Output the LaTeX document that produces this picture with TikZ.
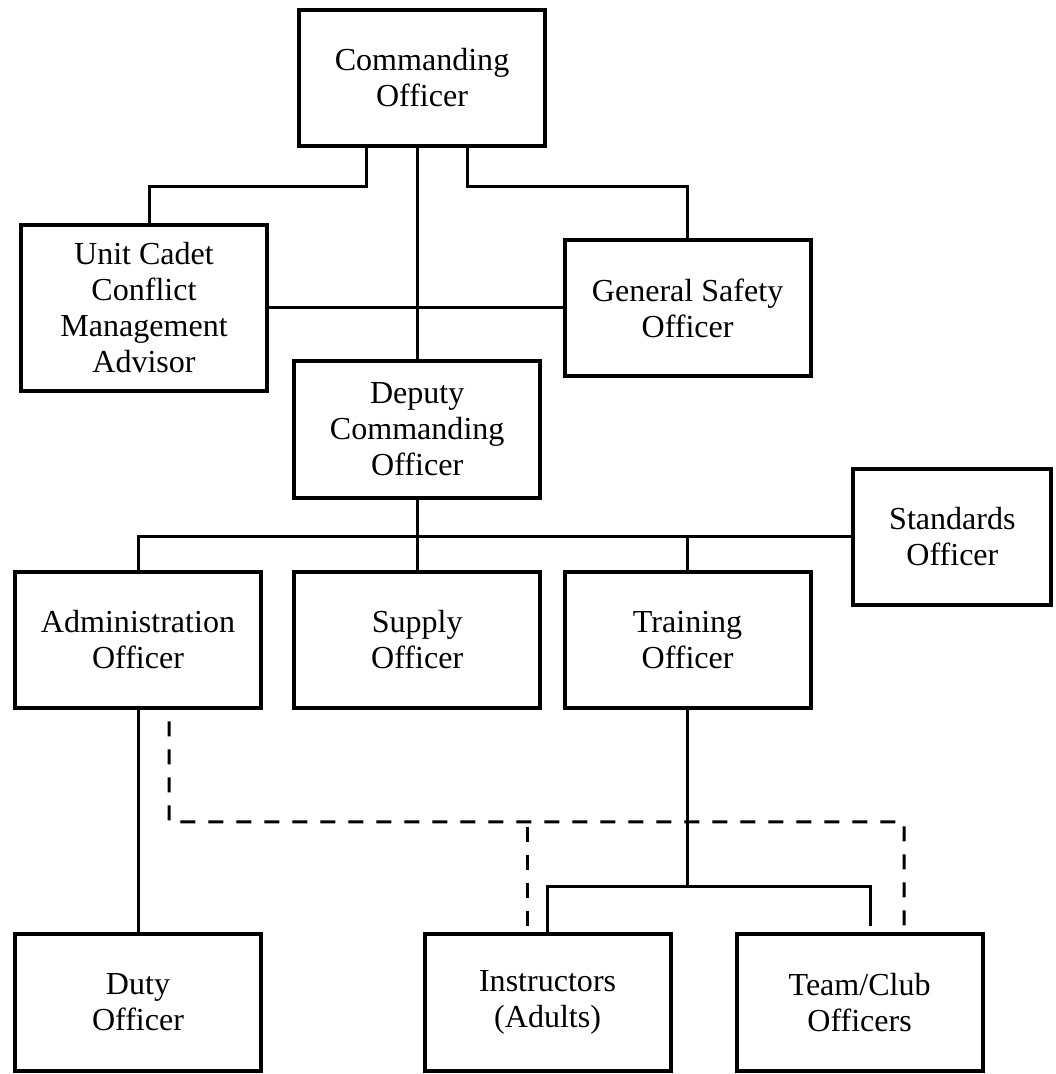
\documentclass[tikz,border=0pt]{standalone}
\usepackage{fontspec}
\setmainfont{Liberation Serif}

\begin{document}
\begin{tikzpicture}[
  x=1cm,y=1cm,font=\fontsize{22.8}{25.6}\selectfont,
  post/.style={draw,line width=.1cm,minimum width=6.15cm,minimum height=3.42cm,
    align=center,inner sep=0pt},
  link/.style={line width=.075cm},
  liaison/.style={line width=.075cm,dash pattern=on .375cm off .325cm}
]
\useasboundingbox (0,0) rectangle (26.375,26.85);
\node[post] (co)  at (10.55,24.9)  {Commanding\\ Officer};
\node[post,minimum height=4.15cm] (ucc) at (3.6,19.15) {Unit Cadet\\ Conflict\\ Management\\ Advisor};
\node[post] (gso) at (17.19,19.15) {General Safety\\ Officer};
\node[post] (dco) at (10.43,16.11) {Deputy\\ Commanding\\ Officer};
\node[post,minimum width=4.95cm] (std) at (23.81,13.425) {Standards\\ Officer};
\node[post] (adm) at (3.45,10.85) {Administration\\ Officer};
\node[post] (sup) at (10.43,10.85) {Supply\\ Officer};
\node[post] (trn) at (17.19,10.85) {Training\\ Officer};
\node[post] (duty) at (3.45,1.79) {Duty\\ Officer};
\node[post] (ins) at (13.69,1.79) {Instructors\\ (Adults)};
\node[post] (tcl) at (21.49,1.79) {Team/Club\\ Officers};
\draw[link] ([xshift=-1.4cm]co.south) -- ++(0,-.965) -| ([xshift=.125cm]ucc.north);
\draw[link] ([xshift=1.125cm]co.south) -- ++(0,-.965) -| (gso.north);
\draw[link] (co.south -| dco.north) -- (dco.north);
\draw[link] (ucc.east) -- (gso.west);
\draw[link] (dco.south) -- (sup.north);
\draw[link] (adm.north) |- (std.west);
\draw[link] (trn.north) -- (trn.north |- std.west);
\draw[link] (adm.south) -- (duty.north);
\coordinate (split) at (17.19,4.675);
\draw[link] (trn.south) -- (split);
\draw[link] (ins.north) |- (split) -| ([xshift=.26cm,yshift=.15cm]tcl.north);
\coordinate (cross) at (4.225,6.3);
\draw[liaison] ([xshift=.775cm,yshift=-.275cm]adm.south) -- (cross) -| ([xshift=1.11cm]tcl.north);
\draw[liaison] ([xshift=-.515cm,yshift=.15cm]ins.north) -- ++(0,2.65);
\end{tikzpicture}
\end{document}
